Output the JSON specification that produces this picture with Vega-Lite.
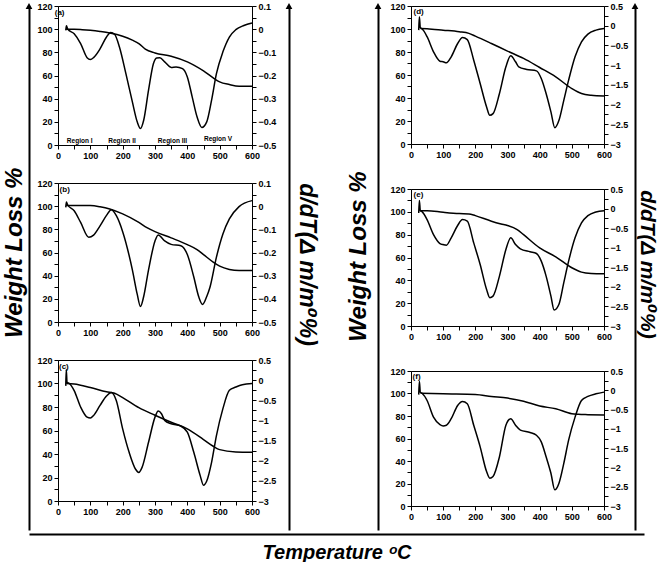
{
  "$schema": "https://vega.github.io/schema/vega-lite/v6.json",
  "padding": {"left": 2, "top": 1, "right": 4, "bottom": 0},
  "title": {"text": "Weight Loss %", "orient": "left", "anchor": "middle", "offset": -2, "dx": 29, "font": "Liberation Sans", "fontSize": 24, "fontWeight": "bold", "fontStyle": "italic", "color": "black"},
  "spacing": 0,
  "vconcat": [
    {
      "spacing": 0,
      "hconcat": [
        {
          "width": 7, "height": 524, "view": {"stroke": null},
          "data": {"values": [{}]},
          "mark": {"type": "point", "shape": "triangle-up", "filled": true, "color": "black", "size": 45, "opacity": 1},
          "encoding": {
            "x": {"datum": 0, "type": "quantitative", "scale": {"domain": [0, 1]}, "axis": null},
            "y": {"datum": 1, "type": "quantitative", "scale": {"domain": [0, 1]}, "axis": {"orient": "left", "ticks": false, "labels": false, "domainWidth": 2, "title": null}}
          }
        },
        {
          "vconcat": [
            {
              "width": 194, "height": 139,
              "layer": [
                {"data": {"name": "a_tg"}, "mark": "line",
                 "encoding": {
                   "x": {"field": "T", "type": "quantitative", "scale": {"domain": [0, 600], "nice": false}, "axis": {"values": [0,50,100,150,200,250,300,350,400,450,500,550,600], "labelExpr": "datum.value % 100 === 0 ? datum.label : ''", "labelOverlap": false, "title": null}},
                   "y": {"field": "w", "type": "quantitative", "scale": {"domain": [0, 120], "nice": false}, "axis": {"orient": "left", "values": [0,10,20,30,40,50,60,70,80,90,100,110,120], "labelExpr": "datum.value % 20 === 0 ? datum.label : ''", "labelOverlap": false, "title": null}}
                 }},
                {"data": {"name": "a_dtg"}, "mark": "line",
                 "encoding": {
                   "x": {"field": "T", "type": "quantitative", "scale": {"domain": [0, 600], "nice": false}, "axis": {"values": [0,50,100,150,200,250,300,350,400,450,500,550,600], "labelExpr": "datum.value % 100 === 0 ? datum.label : ''", "labelOverlap": false, "title": null}},
                   "y": {"field": "d", "type": "quantitative", "scale": {"domain": [-0.5, 0.1], "nice": false}, "axis": {"orient": "right", "values": [-0.5,-0.45,-0.4,-0.35,-0.3,-0.25,-0.2,-0.15,-0.1,-0.05,0,0.05,0.1], "labelExpr": "abs(round(datum.value*20)) % 2 === 0 ? format(datum.value, '~g') : ''", "labelOverlap": false, "title": null}}
                 }},
                {"data": {"name": "a_notes"}, "mark": {"type": "text", "fontWeight": "bold", "color": "black"},
                 "encoding": {
                   "x": {"field": "T", "type": "quantitative", "scale": {"domain": [0, 600], "nice": false}, "axis": {"values": [0,50,100,150,200,250,300,350,400,450,500,550,600], "labelExpr": "datum.value % 100 === 0 ? datum.label : ''", "labelOverlap": false, "title": null}},
                   "y": {"field": "w", "type": "quantitative", "scale": {"domain": [0, 120], "nice": false}, "axis": null},
                   "text": {"field": "label"},
                   "align": {"field": "align", "type": "nominal", "scale": null},
                   "size": {"field": "fs", "type": "quantitative", "scale": null}
                 }}
              ],
              "resolve": {"scale": {"y": "independent"}}
            },
            {
              "width": 194, "height": 139,
              "layer": [
                {"data": {"name": "b_tg"}, "mark": "line",
                 "encoding": {
                   "x": {"field": "T", "type": "quantitative", "scale": {"domain": [0, 600], "nice": false}, "axis": {"values": [0,50,100,150,200,250,300,350,400,450,500,550,600], "labelExpr": "datum.value % 100 === 0 ? datum.label : ''", "labelOverlap": false, "title": null}},
                   "y": {"field": "w", "type": "quantitative", "scale": {"domain": [0, 120], "nice": false}, "axis": {"orient": "left", "values": [0,10,20,30,40,50,60,70,80,90,100,110,120], "labelExpr": "datum.value % 20 === 0 ? datum.label : ''", "labelOverlap": false, "title": null}}
                 }},
                {"data": {"name": "b_dtg"}, "mark": "line",
                 "encoding": {
                   "x": {"field": "T", "type": "quantitative", "scale": {"domain": [0, 600], "nice": false}, "axis": {"values": [0,50,100,150,200,250,300,350,400,450,500,550,600], "labelExpr": "datum.value % 100 === 0 ? datum.label : ''", "labelOverlap": false, "title": null}},
                   "y": {"field": "d", "type": "quantitative", "scale": {"domain": [-0.5, 0.1], "nice": false}, "axis": {"orient": "right", "values": [-0.5,-0.45,-0.4,-0.35,-0.3,-0.25,-0.2,-0.15,-0.1,-0.05,0,0.05,0.1], "labelExpr": "abs(round(datum.value*20)) % 2 === 0 ? format(datum.value, '~g') : ''", "labelOverlap": false, "title": null}}
                 }},
                {"data": {"name": "b_notes"}, "mark": {"type": "text", "fontWeight": "bold", "color": "black", "align": "left", "fontSize": 8},
                 "encoding": {
                   "x": {"field": "T", "type": "quantitative", "scale": {"domain": [0, 600], "nice": false}, "axis": {"values": [0,50,100,150,200,250,300,350,400,450,500,550,600], "labelExpr": "datum.value % 100 === 0 ? datum.label : ''", "labelOverlap": false, "title": null}},
                   "y": {"field": "w", "type": "quantitative", "scale": {"domain": [0, 120], "nice": false}, "axis": null},
                   "text": {"field": "label"}
                 }}
              ],
              "resolve": {"scale": {"y": "independent"}}
            },
            {
              "width": 194, "height": 141,
              "layer": [
                {"data": {"name": "c_tg"}, "mark": "line",
                 "encoding": {
                   "x": {"field": "T", "type": "quantitative", "scale": {"domain": [0, 600], "nice": false}, "axis": {"values": [0,50,100,150,200,250,300,350,400,450,500,550,600], "labelExpr": "datum.value % 100 === 0 ? datum.label : ''", "labelOverlap": false, "title": null}},
                   "y": {"field": "w", "type": "quantitative", "scale": {"domain": [0, 120], "nice": false}, "axis": {"orient": "left", "values": [0,10,20,30,40,50,60,70,80,90,100,110,120], "labelExpr": "datum.value % 20 === 0 ? datum.label : ''", "labelOverlap": false, "title": null}}
                 }},
                {"data": {"name": "c_dtg"}, "mark": "line",
                 "encoding": {
                   "x": {"field": "T", "type": "quantitative", "scale": {"domain": [0, 600], "nice": false}, "axis": {"values": [0,50,100,150,200,250,300,350,400,450,500,550,600], "labelExpr": "datum.value % 100 === 0 ? datum.label : ''", "labelOverlap": false, "title": null}},
                   "y": {"field": "d", "type": "quantitative", "scale": {"domain": [-3, 0.5], "nice": false}, "axis": {"orient": "right", "values": [-3,-2.75,-2.5,-2.25,-2,-1.75,-1.5,-1.25,-1,-0.75,-0.5,-0.25,0,0.25,0.5], "labelExpr": "abs(round(datum.value*4)) % 2 === 0 ? format(datum.value, '~g') : ''", "labelOverlap": false, "title": null}}
                 }},
                {"data": {"name": "c_notes"}, "mark": {"type": "text", "fontWeight": "bold", "color": "black", "align": "left", "fontSize": 8},
                 "encoding": {
                   "x": {"field": "T", "type": "quantitative", "scale": {"domain": [0, 600], "nice": false}, "axis": {"values": [0,50,100,150,200,250,300,350,400,450,500,550,600], "labelExpr": "datum.value % 100 === 0 ? datum.label : ''", "labelOverlap": false, "title": null}},
                   "y": {"field": "w", "type": "quantitative", "scale": {"domain": [0, 120], "nice": false}, "axis": null},
                   "text": {"field": "label"}
                 }}
              ],
              "resolve": {"scale": {"y": "independent"}}
            }
          ],
          "spacing": 38,
          "bounds": "flush"
        },
        {
          "width": 12, "height": 524, "view": {"stroke": null},
          "data": {"values": [{}]},
          "mark": {"type": "point", "shape": "triangle-up", "filled": true, "color": "black", "size": 45, "opacity": 1},
          "encoding": {
            "x": {"datum": 1, "type": "quantitative", "scale": {"domain": [0, 1]}, "axis": null},
            "y": {"datum": 1, "type": "quantitative", "scale": {"domain": [0, 1]}, "axis": {"orient": "right", "ticks": false, "labels": false, "domainWidth": 2, "title": "d/dT(Δ m/m⁰%)", "titleFont": "Liberation Sans, DejaVu Sans", "titleFontSize": 23, "titleFontWeight": "bold", "titleFontStyle": "italic", "titleColor": "black", "titlePadding": 5, "titleY": 258}}
          }
        },
        {
          "width": 29, "height": 10, "view": {"stroke": null},
          "data": {"values": []},
          "mark": {"type": "point", "size": 0},
          "encoding": {}
        },
        {
          "width": 11, "height": 524, "view": {"stroke": null},
          "data": {"values": [{}]},
          "mark": {"type": "point", "shape": "triangle-up", "filled": true, "color": "black", "size": 45, "opacity": 1},
          "encoding": {
            "x": {"datum": 0, "type": "quantitative", "scale": {"domain": [0, 1]}, "axis": null},
            "y": {"datum": 1, "type": "quantitative", "scale": {"domain": [0, 1]}, "axis": {"orient": "left", "ticks": false, "labels": false, "domainWidth": 2, "title": "Weight Loss %", "titleFont": "Liberation Sans", "titleFontSize": 24, "titleFontWeight": "bold", "titleFontStyle": "italic", "titleColor": "black", "titlePadding": 8, "titleY": 250}}
          }
        },
        {
          "vconcat": [
            {
              "width": 193, "height": 138,
              "layer": [
                {"data": {"name": "d_tg"}, "mark": "line",
                 "encoding": {
                   "x": {"field": "T", "type": "quantitative", "scale": {"domain": [0, 600], "nice": false}, "axis": {"values": [0,50,100,150,200,250,300,350,400,450,500,550,600], "labelExpr": "datum.value % 100 === 0 ? datum.label : ''", "labelOverlap": false, "title": null}},
                   "y": {"field": "w", "type": "quantitative", "scale": {"domain": [0, 120], "nice": false}, "axis": {"orient": "left", "values": [0,10,20,30,40,50,60,70,80,90,100,110,120], "labelExpr": "datum.value % 20 === 0 ? datum.label : ''", "labelOverlap": false, "title": null}}
                 }},
                {"data": {"name": "d_dtg"}, "mark": "line",
                 "encoding": {
                   "x": {"field": "T", "type": "quantitative", "scale": {"domain": [0, 600], "nice": false}, "axis": {"values": [0,50,100,150,200,250,300,350,400,450,500,550,600], "labelExpr": "datum.value % 100 === 0 ? datum.label : ''", "labelOverlap": false, "title": null}},
                   "y": {"field": "d", "type": "quantitative", "scale": {"domain": [-3, 0.5], "nice": false}, "axis": {"orient": "right", "values": [-3,-2.75,-2.5,-2.25,-2,-1.75,-1.5,-1.25,-1,-0.75,-0.5,-0.25,0,0.25,0.5], "labelExpr": "abs(round(datum.value*4)) % 2 === 0 ? format(datum.value, '~g') : ''", "labelOverlap": false, "title": null}}
                 }},
                {"data": {"name": "d_notes"}, "mark": {"type": "text", "fontWeight": "bold", "color": "black", "align": "left", "fontSize": 8},
                 "encoding": {
                   "x": {"field": "T", "type": "quantitative", "scale": {"domain": [0, 600], "nice": false}, "axis": {"values": [0,50,100,150,200,250,300,350,400,450,500,550,600], "labelExpr": "datum.value % 100 === 0 ? datum.label : ''", "labelOverlap": false, "title": null}},
                   "y": {"field": "w", "type": "quantitative", "scale": {"domain": [0, 120], "nice": false}, "axis": null},
                   "text": {"field": "label"}
                 }}
              ],
              "resolve": {"scale": {"y": "independent"}}
            },
            {
              "width": 193, "height": 137,
              "layer": [
                {"data": {"name": "e_tg"}, "mark": "line",
                 "encoding": {
                   "x": {"field": "T", "type": "quantitative", "scale": {"domain": [0, 600], "nice": false}, "axis": {"values": [0,50,100,150,200,250,300,350,400,450,500,550,600], "labelExpr": "datum.value % 100 === 0 ? datum.label : ''", "labelOverlap": false, "title": null}},
                   "y": {"field": "w", "type": "quantitative", "scale": {"domain": [0, 120], "nice": false}, "axis": {"orient": "left", "values": [0,10,20,30,40,50,60,70,80,90,100,110,120], "labelExpr": "datum.value % 20 === 0 ? datum.label : ''", "labelOverlap": false, "title": null}}
                 }},
                {"data": {"name": "e_dtg"}, "mark": "line",
                 "encoding": {
                   "x": {"field": "T", "type": "quantitative", "scale": {"domain": [0, 600], "nice": false}, "axis": {"values": [0,50,100,150,200,250,300,350,400,450,500,550,600], "labelExpr": "datum.value % 100 === 0 ? datum.label : ''", "labelOverlap": false, "title": null}},
                   "y": {"field": "d", "type": "quantitative", "scale": {"domain": [-3, 0.5], "nice": false}, "axis": {"orient": "right", "values": [-3,-2.75,-2.5,-2.25,-2,-1.75,-1.5,-1.25,-1,-0.75,-0.5,-0.25,0,0.25,0.5], "labelExpr": "abs(round(datum.value*4)) % 2 === 0 ? format(datum.value, '~g') : ''", "labelOverlap": false, "title": null}}
                 }},
                {"data": {"name": "e_notes"}, "mark": {"type": "text", "fontWeight": "bold", "color": "black", "align": "left", "fontSize": 8},
                 "encoding": {
                   "x": {"field": "T", "type": "quantitative", "scale": {"domain": [0, 600], "nice": false}, "axis": {"values": [0,50,100,150,200,250,300,350,400,450,500,550,600], "labelExpr": "datum.value % 100 === 0 ? datum.label : ''", "labelOverlap": false, "title": null}},
                   "y": {"field": "w", "type": "quantitative", "scale": {"domain": [0, 120], "nice": false}, "axis": null},
                   "text": {"field": "label"}
                 }}
              ],
              "resolve": {"scale": {"y": "independent"}}
            },
            {
              "width": 193, "height": 135,
              "layer": [
                {"data": {"name": "f_tg"}, "mark": "line",
                 "encoding": {
                   "x": {"field": "T", "type": "quantitative", "scale": {"domain": [0, 600], "nice": false}, "axis": {"values": [0,50,100,150,200,250,300,350,400,450,500,550,600], "labelExpr": "datum.value % 100 === 0 ? datum.label : ''", "labelOverlap": false, "title": null}},
                   "y": {"field": "w", "type": "quantitative", "scale": {"domain": [0, 120], "nice": false}, "axis": {"orient": "left", "values": [0,10,20,30,40,50,60,70,80,90,100,110,120], "labelExpr": "datum.value % 20 === 0 ? datum.label : ''", "labelOverlap": false, "title": null}}
                 }},
                {"data": {"name": "f_dtg"}, "mark": "line",
                 "encoding": {
                   "x": {"field": "T", "type": "quantitative", "scale": {"domain": [0, 600], "nice": false}, "axis": {"values": [0,50,100,150,200,250,300,350,400,450,500,550,600], "labelExpr": "datum.value % 100 === 0 ? datum.label : ''", "labelOverlap": false, "title": null}},
                   "y": {"field": "d", "type": "quantitative", "scale": {"domain": [-3, 0.5], "nice": false}, "axis": {"orient": "right", "values": [-3,-2.75,-2.5,-2.25,-2,-1.75,-1.5,-1.25,-1,-0.75,-0.5,-0.25,0,0.25,0.5], "labelExpr": "abs(round(datum.value*4)) % 2 === 0 ? format(datum.value, '~g') : ''", "labelOverlap": false, "title": null}}
                 }},
                {"data": {"name": "f_notes"}, "mark": {"type": "text", "fontWeight": "bold", "color": "black", "align": "left", "fontSize": 8},
                 "encoding": {
                   "x": {"field": "T", "type": "quantitative", "scale": {"domain": [0, 600], "nice": false}, "axis": {"values": [0,50,100,150,200,250,300,350,400,450,500,550,600], "labelExpr": "datum.value % 100 === 0 ? datum.label : ''", "labelOverlap": false, "title": null}},
                   "y": {"field": "w", "type": "quantitative", "scale": {"domain": [0, 120], "nice": false}, "axis": null},
                   "text": {"field": "label"}
                 }}
              ],
              "resolve": {"scale": {"y": "independent"}}
            }
          ],
          "spacing": 45,
          "bounds": "flush"
        },
        {
          "width": 6, "height": 524, "view": {"stroke": null},
          "data": {"values": [{}]},
          "mark": {"type": "point", "shape": "triangle-up", "filled": true, "color": "black", "size": 45, "opacity": 1},
          "encoding": {
            "x": {"datum": 1, "type": "quantitative", "scale": {"domain": [0, 1]}, "axis": null},
            "y": {"datum": 1, "type": "quantitative", "scale": {"domain": [0, 1]}, "axis": {"orient": "right", "ticks": false, "labels": false, "domainWidth": 2, "title": "d/dT(Δ m/m⁰%)", "titleFont": "Liberation Sans, DejaVu Sans", "titleFontSize": 21, "titleFontWeight": "bold", "titleFontStyle": "italic", "titleColor": "black", "titlePadding": 1, "titleY": 258}}
          }
        }
      ]
    },
    {
      "width": 615, "height": 1, "view": {"stroke": null},
      "data": {"values": [{}]},
      "mark": {"type": "point", "size": 0},
      "encoding": {
        "x": {"datum": 0, "type": "quantitative", "scale": {"domain": [0, 1]}, "axis": {"orient": "bottom", "ticks": false, "labels": false, "domainWidth": 2, "title": "Temperature ᵒC", "titleFont": "Liberation Sans, DejaVu Sans", "titleFontSize": 20, "titleFontWeight": "bold", "titleFontStyle": "italic", "titleColor": "black", "titlePadding": 8}},
        "y": {"datum": 0, "type": "quantitative", "scale": {"domain": [0, 1]}, "axis": null}
      }
    }
  ],
  "datasets": {
    "a_notes": [
      {"label": "(a)", "T": 5, "w": 114, "align": "left", "fs": 8},
      {"label": "Region I", "T": 67, "w": 3.5, "align": "center", "fs": 6.5},
      {"label": "Region II", "T": 198, "w": 3.5, "align": "center", "fs": 6.5},
      {"label": "Region III", "T": 354, "w": 3.5, "align": "center", "fs": 6.5},
      {"label": "Region V", "T": 495, "w": 5.5, "align": "center", "fs": 6.5}
    ],
    "b_notes": [{"label": "(b)", "T": 5, "w": 114}],
    "c_notes": [{"label": "(c)", "T": 3, "w": 114}],
    "d_notes": [{"label": "(d)", "T": 8, "w": 115}],
    "e_notes": [{"label": "(e)", "T": 8, "w": 115}],
    "f_notes": [{"label": "(f)", "T": 5, "w": 115}],
    "a_tg": [{"T":25,"w":100},{"T":50,"w":100},{"T":75,"w":99.6},{"T":100,"w":99},{"T":130,"w":98},{"T":160,"w":96.7},{"T":200,"w":93.9},{"T":230,"w":90.5},{"T":250,"w":87.6},{"T":270,"w":82.7},{"T":300,"w":79.5},{"T":350,"w":76.7},{"T":400,"w":71.8},{"T":420,"w":69},{"T":450,"w":64},{"T":480,"w":58},{"T":500,"w":54.5},{"T":530,"w":52.2},{"T":560,"w":50.8},{"T":600,"w":50.8}],
    "a_dtg": [{"T":24,"d":-0.005},{"T":26,"d":0.015},{"T":30,"d":0},{"T":50,"d":-0.02},{"T":70,"d":-0.062},{"T":90,"d":-0.123},{"T":100,"d":-0.131},{"T":110,"d":-0.123},{"T":130,"d":-0.085},{"T":150,"d":-0.034},{"T":163,"d":-0.014},{"T":175,"d":-0.022},{"T":190,"d":-0.077},{"T":210,"d":-0.192},{"T":230,"d":-0.314},{"T":245,"d":-0.4},{"T":255,"d":-0.429},{"T":265,"d":-0.393},{"T":280,"d":-0.263},{"T":295,"d":-0.149},{"T":305,"d":-0.124},{"T":315,"d":-0.123},{"T":330,"d":-0.141},{"T":350,"d":-0.165},{"T":365,"d":-0.163},{"T":385,"d":-0.17},{"T":400,"d":-0.206},{"T":415,"d":-0.292},{"T":430,"d":-0.378},{"T":445,"d":-0.424},{"T":460,"d":-0.4},{"T":475,"d":-0.306},{"T":490,"d":-0.192},{"T":510,"d":-0.098},{"T":530,"d":-0.034},{"T":550,"d":-0.002},{"T":575,"d":0.016},{"T":600,"d":0.027}],
    "b_tg": [{"T":25,"w":100.5},{"T":100,"w":100.5},{"T":130,"w":99.5},{"T":160,"w":97.6},{"T":200,"w":93.3},{"T":250,"w":86},{"T":275,"w":81.5},{"T":300,"w":78},{"T":350,"w":72.6},{"T":400,"w":66.8},{"T":430,"w":62.5},{"T":450,"w":58.2},{"T":480,"w":51.7},{"T":500,"w":48.2},{"T":530,"w":45.4},{"T":560,"w":44.5},{"T":600,"w":44.5}],
    "b_dtg": [{"T":24,"d":-0.005},{"T":26,"d":0.018},{"T":30,"d":0.005},{"T":50,"d":-0.02},{"T":70,"d":-0.07},{"T":95,"d":-0.134},{"T":110,"d":-0.125},{"T":130,"d":-0.085},{"T":150,"d":-0.04},{"T":165,"d":-0.015},{"T":180,"d":-0.04},{"T":200,"d":-0.11},{"T":230,"d":-0.275},{"T":245,"d":-0.38},{"T":255,"d":-0.433},{"T":265,"d":-0.39},{"T":280,"d":-0.275},{"T":300,"d":-0.15},{"T":310,"d":-0.124},{"T":330,"d":-0.15},{"T":350,"d":-0.165},{"T":380,"d":-0.171},{"T":400,"d":-0.209},{"T":420,"d":-0.306},{"T":435,"d":-0.39},{"T":447,"d":-0.424},{"T":460,"d":-0.39},{"T":470,"d":-0.35},{"T":490,"d":-0.22},{"T":510,"d":-0.12},{"T":530,"d":-0.055},{"T":560,"d":-0.002},{"T":600,"d":0.024}],
    "c_tg": [{"T":25,"w":100},{"T":50,"w":99.5},{"T":100,"w":96.6},{"T":150,"w":93},{"T":175,"w":91.7},{"T":200,"w":88},{"T":250,"w":79.4},{"T":300,"w":73},{"T":350,"w":67},{"T":400,"w":61.4},{"T":450,"w":52.3},{"T":480,"w":46.6},{"T":500,"w":43.7},{"T":550,"w":41.7},{"T":600,"w":41.4}],
    "c_dtg": [{"T":24,"d":-0.142},{"T":25.5,"d":0.267},{"T":28,"d":-0.054},{"T":35,"d":-0.083},{"T":50,"d":-0.258},{"T":70,"d":-0.667},{"T":90,"d":-0.918},{"T":100,"d":-0.941},{"T":110,"d":-0.877},{"T":130,"d":-0.626},{"T":150,"d":-0.393},{"T":165,"d":-0.308},{"T":180,"d":-0.5},{"T":200,"d":-1.209},{"T":220,"d":-1.792},{"T":240,"d":-2.212},{"T":250,"d":-2.291},{"T":260,"d":-2.166},{"T":280,"d":-1.542},{"T":300,"d":-0.918},{"T":310,"d":-0.766},{"T":320,"d":-0.833},{"T":330,"d":-0.999},{"T":350,"d":-1.084},{"T":380,"d":-1.142},{"T":400,"d":-1.291},{"T":420,"d":-1.792},{"T":440,"d":-2.376},{"T":450,"d":-2.609},{"T":460,"d":-2.504},{"T":475,"d":-2.04},{"T":490,"d":-1.375},{"T":510,"d":-0.708},{"T":530,"d":-0.25},{"T":550,"d":-0.171},{"T":570,"d":-0.112},{"T":600,"d":-0.083}],
    "d_tg": [{"T":30,"w":100.5},{"T":50,"w":100.3},{"T":100,"w":99},{"T":150,"w":97.6},{"T":180,"w":96.2},{"T":200,"w":93.8},{"T":250,"w":87.4},{"T":300,"w":80.8},{"T":350,"w":74.4},{"T":400,"w":66.5},{"T":450,"w":58.4},{"T":500,"w":48.2},{"T":530,"w":43.9},{"T":560,"w":42.4},{"T":600,"w":41.8}],
    "d_dtg": [{"T":24,"d":-0.112},{"T":26,"d":0.229},{"T":29,"d":-0.054},{"T":35,"d":-0.083},{"T":50,"d":-0.279},{"T":70,"d":-0.661},{"T":90,"d":-0.9},{"T":100,"d":-0.915},{"T":110,"d":-0.941},{"T":125,"d":-0.789},{"T":145,"d":-0.451},{"T":160,"d":-0.296},{"T":175,"d":-0.352},{"T":195,"d":-0.874},{"T":215,"d":-1.466},{"T":235,"d":-2.061},{"T":245,"d":-2.271},{"T":255,"d":-2.23},{"T":275,"d":-1.72},{"T":295,"d":-1.043},{"T":310,"d":-0.763},{"T":325,"d":-0.915},{"T":335,"d":-1.046},{"T":360,"d":-1.11},{"T":390,"d":-1.145},{"T":405,"d":-1.34},{"T":420,"d":-1.72},{"T":435,"d":-2.186},{"T":447,"d":-2.586},{"T":460,"d":-2.399},{"T":475,"d":-1.892},{"T":490,"d":-1.381},{"T":510,"d":-0.789},{"T":530,"d":-0.407},{"T":550,"d":-0.212},{"T":575,"d":-0.112},{"T":600,"d":-0.069}],
    "e_tg": [{"T":30,"w":101},{"T":50,"w":101},{"T":100,"w":99.6},{"T":150,"w":98.5},{"T":180,"w":98.2},{"T":200,"w":96.7},{"T":250,"w":91.8},{"T":280,"w":89.4},{"T":300,"w":88},{"T":330,"w":84.5},{"T":350,"w":80},{"T":400,"w":68.4},{"T":450,"w":60.6},{"T":500,"w":51},{"T":530,"w":47.2},{"T":560,"w":46},{"T":600,"w":45.7}],
    "e_dtg": [{"T":24,"d":-0.112},{"T":26,"d":0.208},{"T":29,"d":-0.054},{"T":35,"d":-0.083},{"T":50,"d":-0.282},{"T":70,"d":-0.667},{"T":90,"d":-0.894},{"T":100,"d":-0.92},{"T":110,"d":-0.935},{"T":125,"d":-0.748},{"T":145,"d":-0.433},{"T":160,"d":-0.282},{"T":175,"d":-0.323},{"T":195,"d":-0.877},{"T":215,"d":-1.428},{"T":235,"d":-2.067},{"T":245,"d":-2.277},{"T":255,"d":-2.236},{"T":275,"d":-1.725},{"T":295,"d":-1.046},{"T":310,"d":-0.748},{"T":325,"d":-0.92},{"T":340,"d":-1.028},{"T":370,"d":-1.104},{"T":390,"d":-1.148},{"T":405,"d":-1.343},{"T":420,"d":-1.725},{"T":435,"d":-2.236},{"T":445,"d":-2.592},{"T":460,"d":-2.446},{"T":475,"d":-1.892},{"T":490,"d":-1.343},{"T":510,"d":-0.748},{"T":530,"d":-0.366},{"T":550,"d":-0.18},{"T":575,"d":-0.086},{"T":600,"d":-0.054}],
    "f_tg": [{"T":30,"w":100.3},{"T":100,"w":99.7},{"T":200,"w":99.1},{"T":250,"w":97.4},{"T":300,"w":95.9},{"T":350,"w":93.2},{"T":400,"w":88.8},{"T":450,"w":86.5},{"T":500,"w":82},{"T":520,"w":81.5},{"T":550,"w":81.2},{"T":600,"w":80.9}],
    "f_dtg": [{"T":24,"d":-0.112},{"T":26,"d":0.237},{"T":29,"d":-0.054},{"T":35,"d":-0.083},{"T":50,"d":-0.264},{"T":70,"d":-0.696},{"T":90,"d":-0.888},{"T":100,"d":-0.923},{"T":110,"d":-0.906},{"T":125,"d":-0.737},{"T":145,"d":-0.393},{"T":160,"d":-0.29},{"T":175,"d":-0.349},{"T":195,"d":-0.906},{"T":215,"d":-1.466},{"T":235,"d":-2.108},{"T":245,"d":-2.28},{"T":255,"d":-2.236},{"T":275,"d":-1.723},{"T":295,"d":-0.906},{"T":310,"d":-0.737},{"T":325,"d":-0.906},{"T":340,"d":-1.034},{"T":370,"d":-1.095},{"T":390,"d":-1.165},{"T":405,"d":-1.337},{"T":420,"d":-1.723},{"T":435,"d":-2.151},{"T":447,"d":-2.58},{"T":460,"d":-2.408},{"T":475,"d":-1.895},{"T":490,"d":-1.294},{"T":510,"d":-0.696},{"T":530,"d":-0.264},{"T":550,"d":-0.159},{"T":575,"d":-0.092},{"T":600,"d":-0.048}]
  },
  "config": {
    "font": "Liberation Sans",
    "view": {"stroke": "black", "strokeWidth": 1},
    "axis": {"labelFont": "Liberation Sans", "labelFontSize": 9, "labelFontWeight": "bold", "labelColor": "black", "domainColor": "black", "tickColor": "black", "tickSize": 4, "labelPadding": 2, "grid": false, "domainWidth": 1, "tickWidth": 1, "labelOverlap": false, "labelFlush": false},
    "line": {"color": "black", "strokeWidth": 1.5, "interpolate": "monotone"},
    "text": {"color": "black", "font": "Liberation Sans"}
  }
}
